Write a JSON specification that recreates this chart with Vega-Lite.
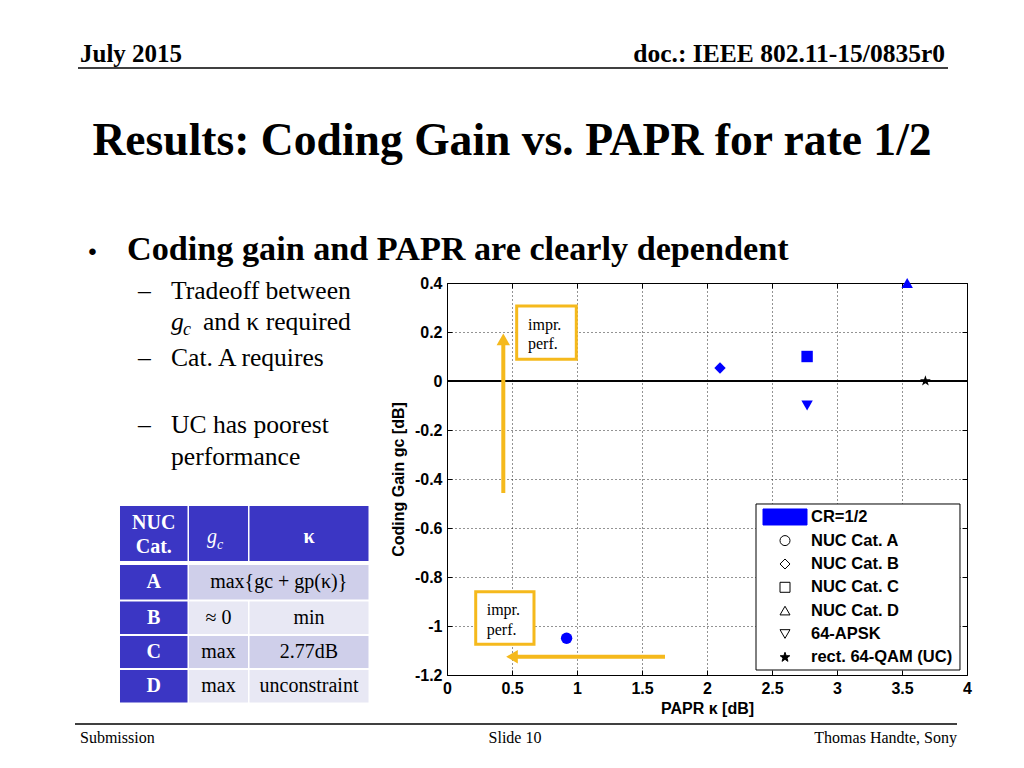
{
  "$schema": "https://vega.github.io/schema/vega-lite/v6.json",
  "width": 520,
  "height": 392,
  "autosize": {"type": "none"},
  "padding": {"left": 447, "top": 283, "right": 57, "bottom": 93},
  "background": "white",
  "datasets": {
    "points": [
      {"series": "NUC Cat. A", "papr": 0.92, "gain": -1.05},
      {"series": "NUC Cat. B", "papr": 2.10, "gain": 0.053},
      {"series": "NUC Cat. C", "papr": 2.77, "gain": 0.10},
      {"series": "NUC Cat. D", "papr": 3.54, "gain": 0.40},
      {"series": "64-APSK", "papr": 2.77, "gain": -0.10},
      {"series": "rect. 64-QAM (UC)", "papr": 3.68, "gain": 0.0}
    ],
    "legendRows": [
      {"series": "CR=1/2", "lx": 2.6, "tx": 2.8, "ly": -0.5551},
      {"series": "NUC Cat. A", "lx": 2.6, "tx": 2.8, "ly": -0.6514},
      {"series": "NUC Cat. B", "lx": 2.6, "tx": 2.8, "ly": -0.7469},
      {"series": "NUC Cat. C", "lx": 2.6, "tx": 2.8, "ly": -0.842},
      {"series": "NUC Cat. D", "lx": 2.6, "tx": 2.8, "ly": -0.9371},
      {"series": "64-APSK", "lx": 2.6, "tx": 2.8, "ly": -1.0327},
      {"series": "rect. 64-QAM (UC)", "lx": 2.6, "tx": 2.8, "ly": -1.1278}
    ],
    "legendBox": [{"x1": 2.377, "x2": 3.946, "y1": -0.502, "y2": -1.1796}],
    "texts": [
      {"role": "hdrL", "x": -2.8231, "y": 1.302, "text": "July 2015"},
      {"role": "hdrR", "x": 3.8308, "y": 1.302, "text": "doc.: IEEE 802.11-15/0835r0"},
      {"role": "title", "x": 0.5, "y": 0.9224, "text": "Results: Coding Gain vs. PAPR for rate 1/2"},
      {"role": "dot", "x": -2.7269, "y": 0.4939, "text": "•"},
      {"role": "lead", "x": -2.4615, "y": 0.4939, "text": "Coding gain and PAPR are clearly dependent"},
      {"role": "sub", "x": -2.3769, "y": 0.3347, "text": "–"},
      {"role": "sub", "x": -2.1231, "y": 0.3347, "text": "Tradeoff between"},
      {"role": "subg", "x": -2.1231, "y": 0.2082, "text": "g"},
      {"role": "subc", "x": -2.0308, "y": 0.1878, "text": "c"},
      {"role": "sub", "x": -1.8769, "y": 0.2082, "text": "and κ required"},
      {"role": "sub", "x": -2.3769, "y": 0.0592, "text": "–"},
      {"role": "sub", "x": -2.1231, "y": 0.0592, "text": "Cat. A requires"},
      {"role": "sub", "x": -2.3769, "y": -0.2122, "text": "–"},
      {"role": "sub", "x": -2.1231, "y": -0.2122, "text": "UC has poorest"},
      {"role": "sub", "x": -2.1231, "y": -0.3429, "text": "performance"},
      {"role": "thead", "x": -2.2558, "y": -0.5796, "text": "NUC"},
      {"role": "thead", "x": -2.2558, "y": -0.6776, "text": "Cat."},
      {"role": "thead", "x": -1.0615, "y": -0.6367, "text": "κ"},
      {"role": "thead", "x": -2.2558, "y": -0.8204, "text": "A"},
      {"role": "thead", "x": -2.2558, "y": -0.9673, "text": "B"},
      {"role": "thead", "x": -2.2558, "y": -1.1061, "text": "C"},
      {"role": "thead", "x": -2.2558, "y": -1.2449, "text": "D"},
      {"role": "tg", "x": -1.8462, "y": -0.6367, "text": "g"},
      {"role": "tc", "x": -1.7692, "y": -0.6694, "text": "c"},
      {"role": "tcell", "x": -1.2942, "y": -0.8204, "text": "max{gc + gp(κ)}"},
      {"role": "tcell", "x": -1.7577, "y": -0.9673, "text": "≈ 0"},
      {"role": "tcell", "x": -1.0615, "y": -0.9673, "text": "min"},
      {"role": "tcell", "x": -1.7577, "y": -1.1061, "text": "max"},
      {"role": "tcell", "x": -1.0615, "y": -1.1061, "text": "2.77dB"},
      {"role": "tcell", "x": -1.7577, "y": -1.2449, "text": "max"},
      {"role": "tcell", "x": -1.0615, "y": -1.2449, "text": "unconstraint"},
      {"role": "note", "x": 0.623, "y": 0.2286, "text": "impr."},
      {"role": "note", "x": 0.623, "y": 0.151, "text": "perf."},
      {"role": "note", "x": 0.3054, "y": -0.9347, "text": "impr."},
      {"role": "note", "x": 0.3054, "y": -1.0163, "text": "perf."},
      {"role": "footL", "x": -2.8231, "y": -1.4776, "text": "Submission"},
      {"role": "footC", "x": 0.5231, "y": -1.4776, "text": "Slide 10"},
      {"role": "footR", "x": 3.9231, "y": -1.4776, "text": "Thomas Handte, Sony"}
    ],
    "cells": [
      {"x1": -2.5154, "x2": -1.9962, "y1": -0.5102, "y2": -0.7347, "kind": "dark"},
      {"x1": -1.9846, "x2": -1.5308, "y1": -0.5102, "y2": -0.7347, "kind": "dark"},
      {"x1": -1.5192, "x2": -0.6038, "y1": -0.5102, "y2": -0.7347, "kind": "dark"},
      {"x1": -2.5154, "x2": -1.9962, "y1": -0.7510, "y2": -0.8918, "kind": "dark"},
      {"x1": -1.9846, "x2": -0.6038, "y1": -0.7510, "y2": -0.8918, "kind": "mid"},
      {"x1": -2.5154, "x2": -1.9962, "y1": -0.9000, "y2": -1.0327, "kind": "dark"},
      {"x1": -1.9846, "x2": -1.5308, "y1": -0.9000, "y2": -1.0327, "kind": "light"},
      {"x1": -1.5192, "x2": -0.6038, "y1": -0.9000, "y2": -1.0327, "kind": "light"},
      {"x1": -2.5154, "x2": -1.9962, "y1": -1.0408, "y2": -1.1714, "kind": "dark"},
      {"x1": -1.9846, "x2": -1.5308, "y1": -1.0408, "y2": -1.1714, "kind": "mid"},
      {"x1": -1.5192, "x2": -0.6038, "y1": -1.0408, "y2": -1.1714, "kind": "mid"},
      {"x1": -2.5154, "x2": -1.9962, "y1": -1.1796, "y2": -1.3122, "kind": "dark"},
      {"x1": -1.9846, "x2": -1.5308, "y1": -1.1796, "y2": -1.3122, "kind": "light"},
      {"x1": -1.5192, "x2": -0.6038, "y1": -1.1796, "y2": -1.3122, "kind": "light"}
    ],
    "lines": [
      {"x1": -2.8385, "x2": 3.8538, "y": 1.2776},
      {"x1": -2.8615, "x2": 3.9231, "y": -1.4}
    ],
    "boxes": [
      {"x1": 0.536, "x2": 0.9946, "y1": 0.3061, "y2": 0.0886},
      {"x1": 0.2208, "x2": 0.6692, "y1": -0.86, "y2": -1.0747}
    ],
    "shafts": [
      {"x1": 0.4331, "y1": -0.4571, "x2": 0.4331, "y2": 0.165},
      {"x1": 1.6769, "y1": -1.1253, "x2": 0.52, "y2": -1.1253}
    ],
    "headUp": [{"x": 0.4331, "y": 0.17}],
    "headLeft": [{"x": 0.5, "y": -1.1253}]
  },
  "layer": [
    {
      "layer": [
        {
          "data": {"name": "cells"},
          "mark": {"type": "rect"},
          "encoding": {
            "x": {"field": "x1", "type": "quantitative", "axis": null},
            "x2": {"field": "x2"},
            "y": {"field": "y1", "type": "quantitative", "axis": null},
            "y2": {"field": "y2"},
            "color": {"field": "kind", "type": "nominal", "scale": {"domain": ["dark", "mid", "light"], "range": ["#3B36C4", "#CFCFEA", "#E8E8F4"]}, "legend": null}
          }
        },
        {
          "data": {"name": "lines"},
          "mark": {"type": "rule", "color": "black", "strokeWidth": 1.5},
          "encoding": {
            "x": {"field": "x1", "type": "quantitative", "axis": null},
            "x2": {"field": "x2"},
            "y": {"field": "y", "type": "quantitative", "axis": null}
          }
        },
        {
          "data": {"name": "texts"},
          "transform": [{"filter": "datum.role === 'hdrL'"}],
          "mark": {"type": "text", "font": "Liberation Serif", "fontSize": 25, "fontWeight": "bold", "align": "left", "baseline": "alphabetic", "color": "black"},
          "encoding": {"x": {"field": "x", "type": "quantitative", "axis": null}, "y": {"field": "y", "type": "quantitative", "axis": null}, "text": {"field": "text"}}
        },
        {
          "data": {"name": "texts"},
          "transform": [{"filter": "datum.role === 'hdrR'"}],
          "mark": {"type": "text", "font": "Liberation Serif", "fontSize": 25.5, "fontWeight": "bold", "align": "right", "baseline": "alphabetic", "color": "black"},
          "encoding": {"x": {"field": "x", "type": "quantitative", "axis": null}, "y": {"field": "y", "type": "quantitative", "axis": null}, "text": {"field": "text"}}
        },
        {
          "data": {"name": "texts"},
          "transform": [{"filter": "datum.role === 'title'"}],
          "mark": {"type": "text", "font": "Liberation Serif", "fontSize": 45.6, "fontWeight": "bold", "align": "center", "baseline": "alphabetic", "color": "black"},
          "encoding": {"x": {"field": "x", "type": "quantitative", "axis": null}, "y": {"field": "y", "type": "quantitative", "axis": null}, "text": {"field": "text"}}
        },
        {
          "data": {"name": "texts"},
          "transform": [{"filter": "datum.role === 'dot'"}],
          "mark": {"type": "text", "font": "Liberation Sans", "fontSize": 24, "align": "center", "baseline": "alphabetic", "color": "black"},
          "encoding": {"x": {"field": "x", "type": "quantitative", "axis": null}, "y": {"field": "y", "type": "quantitative", "axis": null}, "text": {"field": "text"}}
        },
        {
          "data": {"name": "texts"},
          "transform": [{"filter": "datum.role === 'lead'"}],
          "mark": {"type": "text", "font": "Liberation Serif", "fontSize": 34.2, "fontWeight": "bold", "align": "left", "baseline": "alphabetic", "color": "black"},
          "encoding": {"x": {"field": "x", "type": "quantitative", "axis": null}, "y": {"field": "y", "type": "quantitative", "axis": null}, "text": {"field": "text"}}
        },
        {
          "data": {"name": "texts"},
          "transform": [{"filter": "datum.role === 'sub'"}],
          "mark": {"type": "text", "font": "Liberation Serif", "fontSize": 25.6, "align": "left", "baseline": "alphabetic", "color": "black"},
          "encoding": {"x": {"field": "x", "type": "quantitative", "axis": null}, "y": {"field": "y", "type": "quantitative", "axis": null}, "text": {"field": "text"}}
        },
        {
          "data": {"name": "texts"},
          "transform": [{"filter": "datum.role === 'subg'"}],
          "mark": {"type": "text", "font": "Liberation Serif", "fontSize": 25.6, "fontStyle": "italic", "align": "left", "baseline": "alphabetic", "color": "black"},
          "encoding": {"x": {"field": "x", "type": "quantitative", "axis": null}, "y": {"field": "y", "type": "quantitative", "axis": null}, "text": {"field": "text"}}
        },
        {
          "data": {"name": "texts"},
          "transform": [{"filter": "datum.role === 'subc'"}],
          "mark": {"type": "text", "font": "Liberation Serif", "fontSize": 18, "fontStyle": "italic", "align": "left", "baseline": "alphabetic", "color": "black"},
          "encoding": {"x": {"field": "x", "type": "quantitative", "axis": null}, "y": {"field": "y", "type": "quantitative", "axis": null}, "text": {"field": "text"}}
        },
        {
          "data": {"name": "texts"},
          "transform": [{"filter": "datum.role === 'thead'"}],
          "mark": {"type": "text", "font": "Liberation Serif", "fontSize": 20, "fontWeight": "bold", "align": "center", "baseline": "middle", "color": "white"},
          "encoding": {"x": {"field": "x", "type": "quantitative", "axis": null}, "y": {"field": "y", "type": "quantitative", "axis": null}, "text": {"field": "text"}}
        },
        {
          "data": {"name": "texts"},
          "transform": [{"filter": "datum.role === 'tg'"}],
          "mark": {"type": "text", "font": "Liberation Serif", "fontSize": 20, "fontStyle": "italic", "align": "left", "baseline": "middle", "color": "white"},
          "encoding": {"x": {"field": "x", "type": "quantitative", "axis": null}, "y": {"field": "y", "type": "quantitative", "axis": null}, "text": {"field": "text"}}
        },
        {
          "data": {"name": "texts"},
          "transform": [{"filter": "datum.role === 'tc'"}],
          "mark": {"type": "text", "font": "Liberation Serif", "fontSize": 14, "fontStyle": "italic", "align": "left", "baseline": "middle", "color": "white"},
          "encoding": {"x": {"field": "x", "type": "quantitative", "axis": null}, "y": {"field": "y", "type": "quantitative", "axis": null}, "text": {"field": "text"}}
        },
        {
          "data": {"name": "texts"},
          "transform": [{"filter": "datum.role === 'tcell'"}],
          "mark": {"type": "text", "font": "Liberation Serif", "fontSize": 20, "align": "center", "baseline": "middle", "color": "black"},
          "encoding": {"x": {"field": "x", "type": "quantitative", "axis": null}, "y": {"field": "y", "type": "quantitative", "axis": null}, "text": {"field": "text"}}
        },
        {
          "data": {"name": "texts"},
          "transform": [{"filter": "datum.role === 'footL'"}],
          "mark": {"type": "text", "font": "Liberation Serif", "fontSize": 16, "align": "left", "baseline": "alphabetic", "color": "black"},
          "encoding": {"x": {"field": "x", "type": "quantitative", "axis": null}, "y": {"field": "y", "type": "quantitative", "axis": null}, "text": {"field": "text"}}
        },
        {
          "data": {"name": "texts"},
          "transform": [{"filter": "datum.role === 'footC'"}],
          "mark": {"type": "text", "font": "Liberation Serif", "fontSize": 16, "align": "center", "baseline": "alphabetic", "color": "black"},
          "encoding": {"x": {"field": "x", "type": "quantitative", "axis": null}, "y": {"field": "y", "type": "quantitative", "axis": null}, "text": {"field": "text"}}
        },
        {
          "data": {"name": "texts"},
          "transform": [{"filter": "datum.role === 'footR'"}],
          "mark": {"type": "text", "font": "Liberation Serif", "fontSize": 16, "align": "right", "baseline": "alphabetic", "color": "black"},
          "encoding": {"x": {"field": "x", "type": "quantitative", "axis": null}, "y": {"field": "y", "type": "quantitative", "axis": null}, "text": {"field": "text"}}
        },
        {
          "data": {"name": "points"},
          "mark": {"type": "rule", "color": "black", "strokeWidth": 1},
          "encoding": {"y": {"datum": 0, "type": "quantitative", "axis": null}}
        },
        {
          "data": {"name": "points"},
          "mark": {"type": "point", "filled": true, "opacity": 1, "size": 130, "strokeWidth": 0},
          "encoding": {
            "x": {
              "field": "papr", "type": "quantitative",
              "scale": {"domain": [0, 4], "nice": false, "zero": false},
              "axis": null
            },
            "y": {
              "field": "gain", "type": "quantitative",
              "scale": {"domain": [-1.2, 0.4], "nice": false, "zero": false},
              "axis": null
            },
            "shape": {
              "field": "series", "type": "nominal",
              "scale": {
                "domain": ["CR=1/2", "NUC Cat. A", "NUC Cat. B", "NUC Cat. C", "NUC Cat. D", "64-APSK", "rect. 64-QAM (UC)"],
                "range": ["M-4.4,-1.6H4.4V1.6H-4.4Z", "circle", "diamond", "square", "triangle-up", "triangle-down", "M0,-1L0.235,-0.324L0.951,-0.309L0.38,0.124L0.588,0.809L0,0.4L-0.588,0.809L-0.38,0.124L-0.951,-0.309L-0.235,-0.324Z"]
              },
              "legend": null
            },
            "color": {"condition": {"test": "datum.series === 'rect. 64-QAM (UC)'", "value": "black"}, "value": "#0000ff"}
          }
        },
        {
          "data": {"name": "shafts"},
          "mark": {"type": "rule", "color": "#F5B91C", "strokeWidth": 4},
          "encoding": {
            "x": {"field": "x1", "type": "quantitative", "axis": null},
            "x2": {"field": "x2"},
            "y": {"field": "y1", "type": "quantitative", "axis": null},
            "y2": {"field": "y2"}
          }
        },
        {
          "data": {"name": "headUp"},
          "mark": {"type": "point", "shape": "triangle-up", "filled": true, "opacity": 1, "size": 180, "color": "#F5B91C"},
          "encoding": {"x": {"field": "x", "type": "quantitative", "axis": null}, "y": {"field": "y", "type": "quantitative", "axis": null}}
        },
        {
          "data": {"name": "headLeft"},
          "mark": {"type": "point", "shape": "triangle-left", "filled": true, "opacity": 1, "size": 180, "color": "#F5B91C"},
          "encoding": {"x": {"field": "x", "type": "quantitative", "axis": null}, "y": {"field": "y", "type": "quantitative", "axis": null}}
        },
        {
          "data": {"name": "boxes"},
          "mark": {"type": "rect", "fill": "white", "stroke": "#F5B91C", "strokeWidth": 3},
          "encoding": {
            "x": {"field": "x1", "type": "quantitative", "axis": null},
            "x2": {"field": "x2"},
            "y": {"field": "y1", "type": "quantitative", "axis": null},
            "y2": {"field": "y2"}
          }
        },
        {
          "data": {"name": "texts"},
          "transform": [{"filter": "datum.role === 'note'"}],
          "mark": {"type": "text", "font": "Liberation Serif", "fontSize": 16, "align": "left", "baseline": "middle", "color": "black"},
          "encoding": {"x": {"field": "x", "type": "quantitative", "axis": null}, "y": {"field": "y", "type": "quantitative", "axis": null}, "text": {"field": "text"}}
        },
        {
          "data": {"name": "legendBox"},
          "mark": {"type": "rect", "fill": "white", "stroke": "black", "strokeWidth": 1},
          "encoding": {
            "x": {"field": "x1", "type": "quantitative", "axis": null},
            "x2": {"field": "x2"},
            "y": {"field": "y1", "type": "quantitative", "axis": null},
            "y2": {"field": "y2"}
          }
        },
        {
          "data": {"name": "legendRows"},
          "mark": {"type": "point", "filled": false, "opacity": 1, "size": 100, "strokeWidth": 1},
          "encoding": {
            "x": {"field": "lx", "type": "quantitative", "axis": null},
            "y": {"field": "ly", "type": "quantitative", "axis": null},
            "shape": {"field": "series", "type": "nominal", "legend": null},
            "fill": {"condition": [{"test": "datum.series === 'CR=1/2'", "value": "#0000ff"}, {"test": "datum.series === 'rect. 64-QAM (UC)'", "value": "black"}], "value": "transparent"},
            "stroke": {"condition": {"test": "datum.series === 'CR=1/2'", "value": "#0000ff"}, "value": "black"}
          }
        },
        {
          "data": {"name": "legendRows"},
          "mark": {"type": "text", "font": "Liberation Sans", "fontSize": 16.5, "fontWeight": "bold", "align": "left", "baseline": "middle", "color": "black"},
          "encoding": {
            "x": {"field": "tx", "type": "quantitative", "axis": null},
            "y": {"field": "ly", "type": "quantitative", "axis": null},
            "text": {"field": "series"}
          }
        }
      ]
    },
    {
      "data": {"name": "points"},
      "mark": {"type": "point", "opacity": 0},
      "encoding": {
        "x": {"field": "papr", "type": "quantitative", "axis": {"values": [0, 0.5, 1, 1.5, 2, 2.5, 3, 3.5, 4], "labelExpr": "'' + datum.value", "title": "PAPR κ [dB]", "grid": true, "domain": false, "tickSize": -5, "labelPadding": 10, "titlePadding": 4, "labelFlush": false}},
        "y": {"field": "gain", "type": "quantitative", "axis": {"values": [-1.2, -1, -0.8, -0.6, -0.4, -0.2, 0, 0.2, 0.4], "labelExpr": "'' + datum.value", "title": "Coding Gain gc [dB]", "grid": true, "domain": false, "tickSize": -5, "labelPadding": 10, "titlePadding": 8, "labelFlush": false}}
      }
    },
    {
      "data": {"name": "points"},
      "mark": {"type": "point", "opacity": 0},
      "encoding": {
        "x": {"field": "papr", "type": "quantitative", "axis": {"orient": "top", "values": [0, 0.5, 1, 1.5, 2, 2.5, 3, 3.5, 4], "labels": false, "title": null, "grid": false, "domain": false, "tickSize": -5}},
        "y": {"field": "gain", "type": "quantitative", "axis": {"orient": "right", "values": [-1.2, -1, -0.8, -0.6, -0.4, -0.2, 0, 0.2, 0.4], "labels": false, "title": null, "grid": false, "domain": false, "tickSize": -5}}
      }
    }
  ],
  "resolve": {"axis": {"x": "independent", "y": "independent"}},
  "config": {
    "view": {"stroke": "black", "strokeWidth": 1},
    "axis": {
      "labelFont": "Liberation Sans",
      "labelFontSize": 16,
      "labelFontWeight": "bold",
      "labelColor": "black",
      "titleFont": "Liberation Sans",
      "titleFontSize": 16,
      "titleFontWeight": "bold",
      "titleColor": "black",
      "tickColor": "black",
      "tickWidth": 1,
      "gridColor": "black",
      "gridDash": [1, 3],
      "gridOpacity": 0.85,
      "gridWidth": 1,
      "labelOverlap": false,
      "labelBound": false
    }
  }
}
